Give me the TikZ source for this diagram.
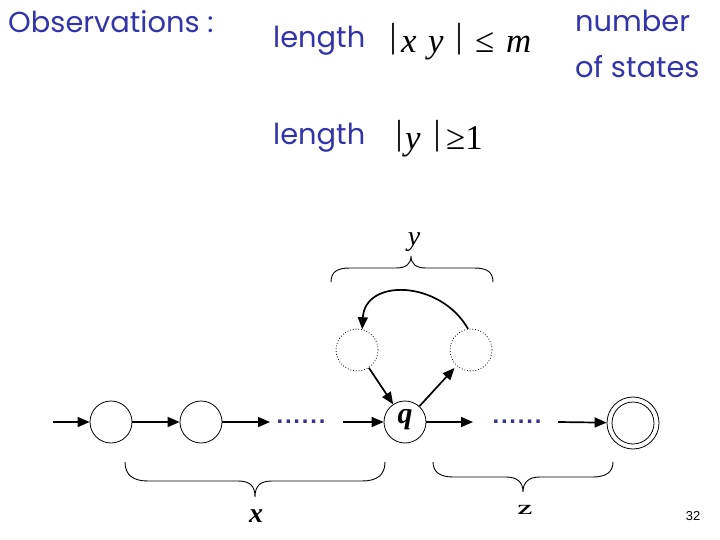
\documentclass[tikz,border=0pt]{standalone}
\usepackage{fontspec}
\setmainfont{Poppins}
\newfontfamily\mathser{Liberation Serif}
\newfontfamily\numfont{Liberation Sans}
\usetikzlibrary{arrows.meta}
\definecolor{txtblue}{RGB}{51,51,170}
\definecolor{dotblue}{RGB}{51,51,136}
\tikzset{
  lbl/.style={inner sep=0pt, anchor=base west, text=txtblue, font=\fontsize{29}{32}\selectfont},
  mth/.style={inner sep=0pt, font=\fontsize{35}{38}\mathser},
  state/.style={circle, draw, line width=0.8bp, minimum size=42bp, inner sep=0pt},
  ghost/.style={circle, draw, dotted, line width=0.8bp, minimum size=42bp, inner sep=0pt},
  arr/.style={line width=1.7bp, -{Triangle[length=12bp,width=10bp]}},
  brace/.style={line width=0.9bp},
  dotrow/.style={inner sep=0pt, text=dotblue, font=\fontsize{24}{24}\numfont\bfseries},
  lab/.style={inner sep=0pt, font=\fontsize{26}{28}\mathser}
}
\newcommand{\sixdots}{.\kern1.8bp.\kern1.8bp.\kern1.8bp.\kern1.8bp.\kern1.8bp.}
\begin{document}
\begin{tikzpicture}[x=1bp,y=-1bp]
\useasboundingbox (0,0) rectangle (720,540);
% texts
\node[lbl] (obs) at (8,33) {Observations :};
\node[lbl] (len1) at (273,48) {length};
\node[lbl] (num) at (575,32) {number};
\node[lbl] (ofs) at (575,78) {of states};
\node[lbl] (len2) at (273,145) {length};
% math line 1
\node[mth] (b1) at (393,39) {|};
\node[mth, anchor=base west] (mx) at (401,53) {\itshape x};
\node[mth, anchor=base west] (my) at (428,53) {\itshape y};
\node[mth] (b2) at (459,39) {|};
\node[mth, anchor=base west] (le) at (475,53) {≤};
\node[mth, anchor=base west] (mm) at (506,53) {\itshape m};
% math line 2
\node[mth] (b3) at (399,136) {|};
\node[mth, anchor=base west] (my2) at (405,150) {\itshape y};
\node[mth] (b4) at (437,136) {|};
\node[mth, anchor=base west] (ge) at (446,150) {≥1};
% states
\coordinate (start) at (53,422);
\node[state] (s1) at (111,422) {};
\node[state] (s2) at (201,422) {};
\coordinate (e2) at (270,422);
\node[dotrow] (d1) at (301,422) {\sixdots};
\coordinate (b2s) at (343,422);
\node[state] (q) at (405,422) {};
\node[inner sep=0pt, font=\fontsize{30}{30}\mathser\bfseries\itshape] (ql) at (405,420) {q};
\coordinate (qe) at (473,422);
\node[dotrow] (d2) at (517,422) {\sixdots};
\coordinate (fs) at (558,422);
\node[state, minimum size=52bp] (f) at (633,423) {};
\node[circle, draw, line width=0.8bp, minimum size=42bp, inner sep=0pt] (fi) at (633,423) {};
\node[ghost] (ld) at (357,350) {};
\node[ghost] (rd) at (471,350) {};
% arrows
\draw[arr] (start) -- (s1);
\draw[arr] (s1) -- (s2);
\draw[arr] (s2) -- (e2);
\draw[arr] (b2s) -- (q);
\draw[arr] (q) -- (qe);
\draw[arr] (fs) -- (f);
\draw[arr] (ld) -- (q);
\draw[arr, shorten >=3bp] (q) -- (rd);
\draw[arr] (rd.98) .. controls (440,280) and (365,278) .. (ld.76);
% braces
\draw[brace] (331,282) .. controls (331,272) and (337,268) .. (350,268) -- (396,268) .. controls (406,268) and (411,264) .. (411,256) .. controls (411,264) and (416,268) .. (426,268) -- (474,268) .. controls (487,268) and (493,272) .. (493,282);
\node[lab, font=\fontsize{28}{30}\mathser\itshape] (ylab) at (414,242) {y};
\draw[brace] (125,462) .. controls (125,475) and (133,481) .. (148,481) -- (238,481) .. controls (250,481) and (255,486) .. (255,497) .. controls (255,486) and (260,481) .. (272,481) -- (362,481) .. controls (377,481) and (385,475) .. (385,462);
\node[lab, font=\fontsize{28}{30}\mathser\bfseries\itshape] (xlab) at (256,516) {x};
\draw[brace] (433,462) .. controls (433,472) and (440,477) .. (453,477) -- (506,477) .. controls (517,477) and (523,482) .. (523,492) .. controls (523,482) and (529,477) .. (540,477) -- (593,477) .. controls (606,477) and (613,472) .. (613,462);
\node[lab, font=\fontsize{40}{40}\mathser\itshape, xslant=-0.3, yscale=0.5] (zlab) at (525,510) {z};
\node[inner sep=0pt, font=\fontsize{13}{13}\numfont] (pg) at (693,516) {32};
\end{tikzpicture}
\end{document}
